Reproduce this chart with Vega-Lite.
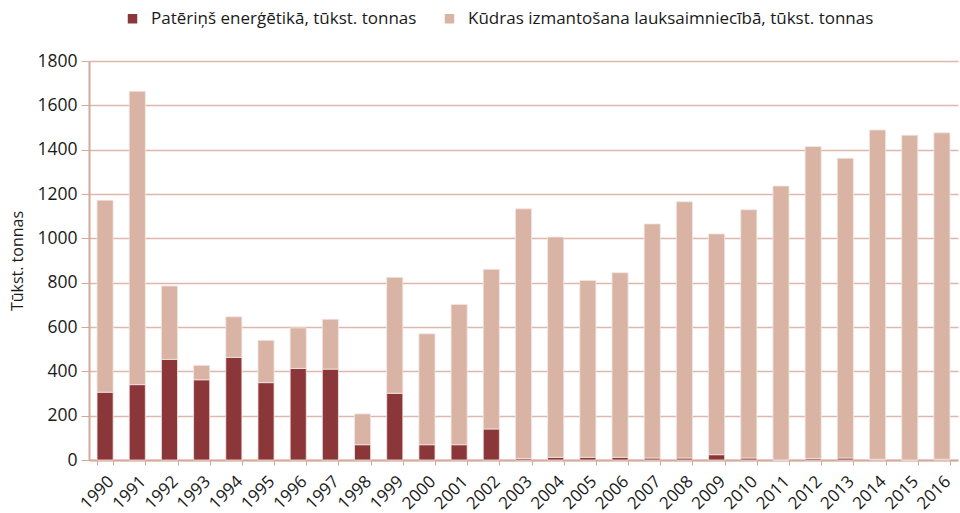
{
  "$schema": "https://vega.github.io/schema/vega-lite/v6.json",
  "width": 869,
  "height": 399,
  "autosize": {"type": "none"},
  "padding": {"left": 89, "top": 61, "right": 2, "bottom": 53},
  "background": "white",
  "config": {
    "font": "Open Sans",
    "view": {"stroke": null},
    "axis": {"labelFontSize": 17, "labelColor": "#1a1a1a", "titleColor": "#1a1a1a", "titleFontWeight": "normal", "titleFontSize": 16}
  },
  "data": {
    "values": [
      {"year": "1990", "series": "Patēriņš enerģētikā, tūkst. tonnas", "value": 306},
      {"year": "1990", "series": "Kūdras izmantošana lauksaimniecībā, tūkst. tonnas", "value": 866},
      {"year": "1991", "series": "Patēriņš enerģētikā, tūkst. tonnas", "value": 340},
      {"year": "1991", "series": "Kūdras izmantošana lauksaimniecībā, tūkst. tonnas", "value": 1323},
      {"year": "1992", "series": "Patēriņš enerģētikā, tūkst. tonnas", "value": 454},
      {"year": "1992", "series": "Kūdras izmantošana lauksaimniecībā, tūkst. tonnas", "value": 331},
      {"year": "1993", "series": "Patēriņš enerģētikā, tūkst. tonnas", "value": 362},
      {"year": "1993", "series": "Kūdras izmantošana lauksaimniecībā, tūkst. tonnas", "value": 65},
      {"year": "1994", "series": "Patēriņš enerģētikā, tūkst. tonnas", "value": 463},
      {"year": "1994", "series": "Kūdras izmantošana lauksaimniecībā, tūkst. tonnas", "value": 183},
      {"year": "1995", "series": "Patēriņš enerģētikā, tūkst. tonnas", "value": 349},
      {"year": "1995", "series": "Kūdras izmantošana lauksaimniecībā, tūkst. tonnas", "value": 191},
      {"year": "1996", "series": "Patēriņš enerģētikā, tūkst. tonnas", "value": 413},
      {"year": "1996", "series": "Kūdras izmantošana lauksaimniecībā, tūkst. tonnas", "value": 183},
      {"year": "1997", "series": "Patēriņš enerģētikā, tūkst. tonnas", "value": 410},
      {"year": "1997", "series": "Kūdras izmantošana lauksaimniecībā, tūkst. tonnas", "value": 225},
      {"year": "1998", "series": "Patēriņš enerģētikā, tūkst. tonnas", "value": 69},
      {"year": "1998", "series": "Kūdras izmantošana lauksaimniecībā, tūkst. tonnas", "value": 139},
      {"year": "1999", "series": "Patēriņš enerģētikā, tūkst. tonnas", "value": 301},
      {"year": "1999", "series": "Kūdras izmantošana lauksaimniecībā, tūkst. tonnas", "value": 523},
      {"year": "2000", "series": "Patēriņš enerģētikā, tūkst. tonnas", "value": 69},
      {"year": "2000", "series": "Kūdras izmantošana lauksaimniecībā, tūkst. tonnas", "value": 500},
      {"year": "2001", "series": "Patēriņš enerģētikā, tūkst. tonnas", "value": 69},
      {"year": "2001", "series": "Kūdras izmantošana lauksaimniecībā, tūkst. tonnas", "value": 633},
      {"year": "2002", "series": "Patēriņš enerģētikā, tūkst. tonnas", "value": 140},
      {"year": "2002", "series": "Kūdras izmantošana lauksaimniecībā, tūkst. tonnas", "value": 720},
      {"year": "2003", "series": "Patēriņš enerģētikā, tūkst. tonnas", "value": 7},
      {"year": "2003", "series": "Kūdras izmantošana lauksaimniecībā, tūkst. tonnas", "value": 1126},
      {"year": "2004", "series": "Patēriņš enerģētikā, tūkst. tonnas", "value": 12},
      {"year": "2004", "series": "Kūdras izmantošana lauksaimniecībā, tūkst. tonnas", "value": 994},
      {"year": "2005", "series": "Patēriņš enerģētikā, tūkst. tonnas", "value": 12},
      {"year": "2005", "series": "Kūdras izmantošana lauksaimniecībā, tūkst. tonnas", "value": 798},
      {"year": "2006", "series": "Patēriņš enerģētikā, tūkst. tonnas", "value": 12},
      {"year": "2006", "series": "Kūdras izmantošana lauksaimniecībā, tūkst. tonnas", "value": 833},
      {"year": "2007", "series": "Patēriņš enerģētikā, tūkst. tonnas", "value": 9},
      {"year": "2007", "series": "Kūdras izmantošana lauksaimniecībā, tūkst. tonnas", "value": 1056},
      {"year": "2008", "series": "Patēriņš enerģētikā, tūkst. tonnas", "value": 9},
      {"year": "2008", "series": "Kūdras izmantošana lauksaimniecībā, tūkst. tonnas", "value": 1156},
      {"year": "2009", "series": "Patēriņš enerģētikā, tūkst. tonnas", "value": 24},
      {"year": "2009", "series": "Kūdras izmantošana lauksaimniecībā, tūkst. tonnas", "value": 996},
      {"year": "2010", "series": "Patēriņš enerģētikā, tūkst. tonnas", "value": 9},
      {"year": "2010", "series": "Kūdras izmantošana lauksaimniecībā, tūkst. tonnas", "value": 1120},
      {"year": "2011", "series": "Patēriņš enerģētikā, tūkst. tonnas", "value": 0},
      {"year": "2011", "series": "Kūdras izmantošana lauksaimniecībā, tūkst. tonnas", "value": 1236},
      {"year": "2012", "series": "Patēriņš enerģētikā, tūkst. tonnas", "value": 7},
      {"year": "2012", "series": "Kūdras izmantošana lauksaimniecībā, tūkst. tonnas", "value": 1407},
      {"year": "2013", "series": "Patēriņš enerģētikā, tūkst. tonnas", "value": 9},
      {"year": "2013", "series": "Kūdras izmantošana lauksaimniecībā, tūkst. tonnas", "value": 1352},
      {"year": "2014", "series": "Patēriņš enerģētikā, tūkst. tonnas", "value": 3},
      {"year": "2014", "series": "Kūdras izmantošana lauksaimniecībā, tūkst. tonnas", "value": 1486},
      {"year": "2015", "series": "Patēriņš enerģētikā, tūkst. tonnas", "value": 0},
      {"year": "2015", "series": "Kūdras izmantošana lauksaimniecībā, tūkst. tonnas", "value": 1465},
      {"year": "2016", "series": "Patēriņš enerģētikā, tūkst. tonnas", "value": 3},
      {"year": "2016", "series": "Kūdras izmantošana lauksaimniecībā, tūkst. tonnas", "value": 1473}
    ]
  },
  "mark": {"type": "bar", "stroke": "#f3e6e1", "strokeWidth": 0.8},
  "encoding": {
    "x": {
      "field": "year", "type": "ordinal",
      "scale": {"paddingInner": 0.5, "paddingOuter": 0.25},
      "axis": {
        "title": null, "labelAngle": -45, "labelAlign": "right", "labelBaseline": "top",
        "labelPadding": 8, "labelFontSize": 17,
        "tickBand": "extent", "tickSize": 5, "tickColor": "#d4a999",
        "domainColor": "#d4a999", "domainWidth": 2, "grid": false
      }
    },
    "y": {
      "field": "value", "type": "quantitative", "aggregate": "sum", "stack": "zero",
      "scale": {"domain": [0, 1800], "nice": false},
      "axis": {
        "title": "Tūkst. tonnas", "values": [0, 200, 400, 600, 800, 1000, 1200, 1400, 1600, 1800],
        "format": "d", "labelFontSize": 17.5,
        "grid": true, "gridColor": "#dcb9ab", "gridWidth": 1.5,
        "domainColor": "#d4a999", "domainWidth": 2,
        "tickColor": "#d4a999", "tickSize": 8, "labelPadding": 4, "titlePadding": 11
      }
    },
    "color": {
      "field": "series", "type": "nominal",
      "scale": {
        "domain": ["Patēriņš enerģētikā, tūkst. tonnas", "Kūdras izmantošana lauksaimniecībā, tūkst. tonnas"],
        "range": ["#8b3639", "#d9b4a5"]
      },
      "legend": {
        "title": null, "orient": "none", "direction": "horizontal",
        "legendX": 35, "legendY": -51,
        "symbolType": "square", "symbolSize": 90, "symbolStrokeWidth": 0,
        "labelOffset": 10, "labelFontSize": 17, "labelColor": "#1a1a1a", "columnPadding": 24, "labelLimit": 500
      }
    },
    "order": {"field": "series", "sort": "descending"}
  }
}
